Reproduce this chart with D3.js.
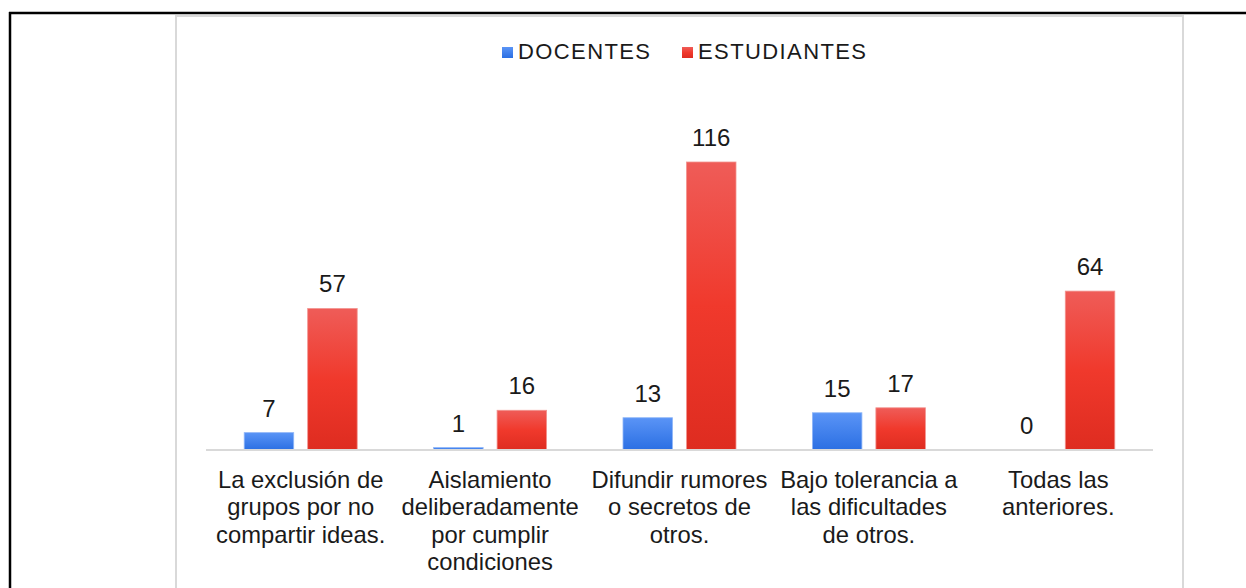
<!DOCTYPE html>
<html><head><meta charset="utf-8">
<script src="https://cdn.jsdelivr.net/npm/d3@7"></script>
<style>body{margin:0;background:#fff}svg{display:block}</style>
</head><body>
<script>
const categories = [
  ["La exclusión de","grupos por no","compartir ideas."],
  ["Aislamiento","deliberadamente","por cumplir","condiciones"],
  ["Difundir rumores","o secretos de","otros."],
  ["Bajo tolerancia a","las dificultades","de otros."],
  ["Todas las","anteriores."]
];
const seriesNames = ["DOCENTES","ESTUDIANTES"];
const docentes = [7, 1, 13, 15, 0];
const estudiantes = [57, 16, 116, 17, 64];

const W = 1246, H = 588;
const svg = d3.select("body").append("svg").attr("width", W).attr("height", H);
const font = "'Liberation Sans', Arial, sans-serif";

const defs = svg.append("defs");
const gB = defs.append("linearGradient").attr("id","gB").attr("x1",0).attr("y1",0).attr("x2",0).attr("y2",1);
gB.append("stop").attr("offset","0%").attr("stop-color","#5a94f6");
gB.append("stop").attr("offset","100%").attr("stop-color","#2b6fe3");
const gR = defs.append("linearGradient").attr("id","gR").attr("x1",0).attr("y1",0).attr("x2",0).attr("y2",1);
gR.append("stop").attr("offset","0%").attr("stop-color","#ef5c58");
gR.append("stop").attr("offset","50%").attr("stop-color","#f0392c");
gR.append("stop").attr("offset","100%").attr("stop-color","#de2c20");

// outer frame
svg.append("line").attr("x1",9).attr("x2",1246).attr("y1",13).attr("y2",13).attr("stroke","#000").attr("stroke-width",2.5);
svg.append("line").attr("x1",10).attr("x2",10).attr("y1",12).attr("y2",H).attr("stroke","#000").attr("stroke-width",2.5);
// chart area border
svg.append("rect").attr("x",176).attr("y",16).attr("width",1007).attr("height",H).attr("fill","none").attr("stroke","#d9d9d9").attr("stroke-width",2);

const x0 = d3.scaleBand().domain(d3.range(categories.length)).range([206,1153]).paddingInner(0).paddingOuter(0);
const x1 = d3.scaleBand().domain([0,1]).range([0,113]).paddingInner(0.22);
const y = d3.scaleLinear().domain([0,116]).range([450,162]);

const data = categories.map((c,i)=>({i, vals:[docentes[i], estudiantes[i]]}));
const groups = svg.selectAll("g.cat").data(data).join("g")
  .attr("transform", d=>`translate(${x0(d.i)+x0.bandwidth()/2-56.5},0)`);

groups.selectAll("rect").data(d=>d.vals.map((v,k)=>({v,k}))).join("rect")
  .attr("x", d=>x1(d.k)).attr("width", x1.bandwidth())
  .attr("y", d=>Math.min(y(d.v), 448)).attr("height", d=>Math.max(450-y(d.v), d.v>0?2:0))
  .attr("fill", d=>d.k===0?"url(#gB)":"url(#gR)")
  .attr("stroke", d=>d.k===0?"#8fb6f8":"#f29490").attr("stroke-width",0.8)
  .attr("opacity", d=>d.v>0?1:0);

groups.selectAll("text.val").data(d=>d.vals.map((v,k)=>({v,k}))).join("text")
  .attr("class","val")
  .attr("x", d=>x1(d.k)+x1.bandwidth()/2)
  .attr("y", d=>y(d.v)-16)
  .attr("text-anchor","middle").attr("font-family",font).attr("font-size",24).attr("fill","#1a1a1a")
  .text(d=>d.v);

// baseline
svg.append("line").attr("x1",206).attr("x2",1153).attr("y1",450).attr("y2",450).attr("stroke","#d9d9d9").attr("stroke-width",2);

// category labels
const lab = svg.selectAll("text.cat").data(categories).join("text")
  .attr("class","cat").attr("text-anchor","middle").attr("font-family",font).attr("font-size",23.8).attr("fill","#1a1a1a");
lab.each(function(lines,i){
  d3.select(this).selectAll("tspan").data(lines).join("tspan")
    .attr("x", x0(i)+x0.bandwidth()/2).attr("y",(d,j)=>487.5+j*27.6).text(d=>d);
});

// legend
const leg = svg.append("g");
const legItems = [{n:seriesNames[0],c:"url(#gB)",x:502},{n:seriesNames[1],c:"url(#gR)",x:682}];
legItems.forEach(it=>{
  leg.append("rect").attr("x",it.x).attr("y",47).attr("width",11).attr("height",11).attr("fill",it.c);
  leg.append("text").attr("x",it.x+16).attr("y",59).attr("font-family",font).attr("font-size",22)
    .attr("letter-spacing",1.4).attr("fill","#1a1a1a").text(it.n);
});
</script>
</body></html>
